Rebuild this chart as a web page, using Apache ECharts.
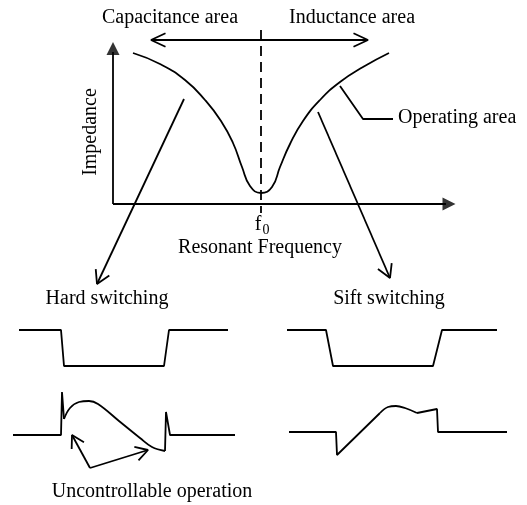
<!DOCTYPE html>
<html>
<head>
<meta charset="utf-8">
<script src="https://cdn.jsdelivr.net/npm/echarts@6/dist/echarts.min.js"></script>
<style>
  html, body { margin: 0; padding: 0; background: #fff; }
  #main { width: 527px; height: 505px; }
</style>
</head>
<body>
<div id="main"></div>
<script>
// 画面坐标系：x 0..527，y 0..505（向下）

// 阻抗曲线
const impedanceCurve = [[133,53],[160,64],[185,80],[205,100],[221,121],[233,143],[242,167],[250,186],[261,193],[272,187],[280,167],[290,144],[303,121],[320,100],[340,82],[363,67],[389,53]];
const yAxisLine = [[113,204],[113,52]];
const xAxisLine = [[113,204],[446,204]];
const resonanceLine = [[261,30],[261,213]];
const regionArrow = [[151,40],[368,40]];
const operatingLeader = [[340,86],[363,119],[393,119]];
const hardPointer = [[184,99],[97,284]];
const softPointer = [[318,112],[390,278]];

// 硬开关波形
const hardCurrentStart = [[13,435],[61,435],[62,392],[64,419]];
const hardCurrentHump = [[64,419],[70,408],[79,402],[89,401],[98,404],[119,421],[140,438],[152,447],[165,451]];
const hardCurrentEnd = [[165,451],[166,412],[170,435],[235,435]];
const hardVoltage = [[19,330],[61,330],[64,366],[164,366],[169,330],[228,330]];
const uncontrolArrowA = [[90,468],[72,435]];
const uncontrolArrowB = [[90,468],[148,450]];

// 软开关波形
const softVoltage = [[287,330],[326,330],[333,366],[433,366],[442,330],[497,330]];
const softCurrentStart = [[289,432],[336,432],[337,455],[380,413]];
const softCurrentHump = [[380,413],[388,407],[396,406],[405,408],[417,413]];
const softCurrentEnd = [[417,413],[437,409],[438,432],[507,432]];

// 实心箭头（中心点）
const filledHeads = [[113,48.5,0],[449,204,-90]];

function openHead(line, len, deg) {
  const a = line[line.length - 2], b = line[line.length - 1];
  const ang = Math.atan2(a[1] - b[1], a[0] - b[0]);
  const r = deg * Math.PI / 180;
  return [
    [b[0] + len * Math.cos(ang + r), b[1] + len * Math.sin(ang + r)],
    b,
    [b[0] + len * Math.cos(ang - r), b[1] + len * Math.sin(ang - r)]
  ];
}

function seg(data, extra) {
  return Object.assign({
    type: 'line',
    data: data,
    symbol: 'none',
    silent: true,
    lineStyle: { color: '#000', width: 1.8 }
  }, extra || {});
}

const chart = echarts.init(document.getElementById('main'));
const serif = 'Liberation Serif, Times New Roman, serif';
const text = (t, x, y, align, size, extra) => Object.assign({
  type: 'text', x: x, y: y,
  style: { text: t, font: (size || 20) + 'px ' + serif, fill: '#000', textAlign: align || 'center', textVerticalAlign: 'middle' }
}, extra || {});

chart.setOption({
  animation: false,
  grid: { left: 0, right: 0, top: 0, bottom: 0 },
  xAxis: { type: 'value', min: 0, max: 527, show: false },
  yAxis: { type: 'value', min: 0, max: 505, inverse: true, show: false },
  series: [
    seg(impedanceCurve, { smooth: 0.5 }),
    seg(yAxisLine),
    seg(xAxisLine),
    seg(resonanceLine, { lineStyle: { color: '#000', width: 1.8, type: [10, 6] } }),
    seg(regionArrow),
    seg(openHead(regionArrow, 16, 25)),
    seg(openHead(regionArrow.slice().reverse(), 16, 25)),
    seg(operatingLeader),
    seg(hardPointer),
    seg(openHead(hardPointer, 15, 30)),
    seg(softPointer),
    seg(openHead(softPointer, 15, 30)),
    seg(hardVoltage),
    seg(hardCurrentStart),
    seg(hardCurrentHump, { smooth: 0.4 }),
    seg(hardCurrentEnd),
    seg(uncontrolArrowA),
    seg(openHead(uncontrolArrowA, 14, 30)),
    seg(uncontrolArrowB),
    seg(openHead(uncontrolArrowB, 14, 30)),
    seg(softVoltage),
    seg(softCurrentStart),
    seg(softCurrentHump, { smooth: 0.4 }),
    seg(softCurrentEnd),
    {
      type: 'scatter',
      silent: true,
      data: filledHeads.map(p => ({ value: [p[0], p[1]], symbolRotate: p[2] })),
      symbol: 'triangle',
      symbolSize: [13, 13],
      itemStyle: { color: '#000' }
    }
  ],
  graphic: [
    text('Capacitance area', 170, 18),
    text('Inductance area', 352, 18),
    text('Operating area', 398, 118, 'left'),
    text('Impedance', 91, 132, 'center', 20, { rotation: Math.PI / 2 }),
    text('f', 258, 225),
    text('0', 266, 230, 'center', 14),
    text('Resonant Frequency', 260, 248),
    text('Hard switching', 107, 299),
    text('Sift switching', 389, 299),
    text('Uncontrollable operation', 152, 492)
  ]
});
</script>
</body>
</html>
